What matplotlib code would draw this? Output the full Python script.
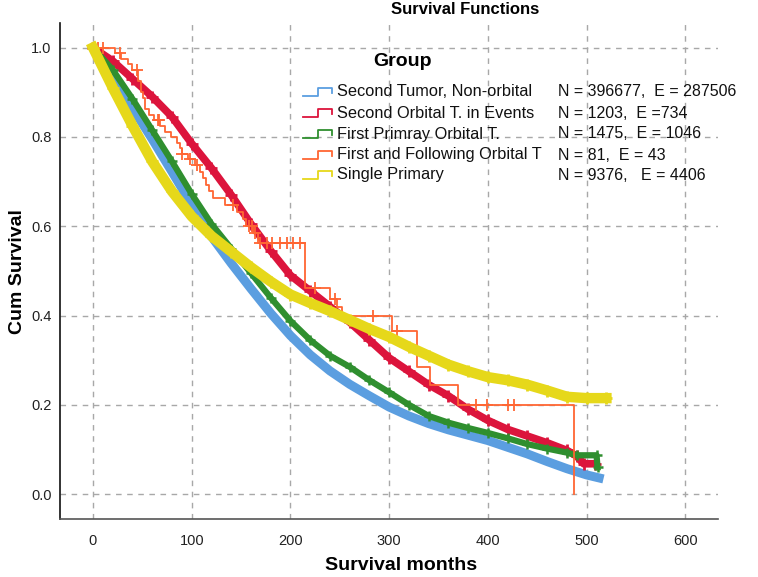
import matplotlib
matplotlib.use('Agg')
import matplotlib.pyplot as plt
import numpy as np

plt.rcParams['font.family'] = ['Liberation Sans', 'DejaVu Sans']

W, H = 758, 577

# ---------------- data ----------------
group_names = ["Second Tumor, Non-orbital", "Second Orbital T. in Events",
               "First Primray Orbital T.", "First and Following Orbital T",
               "Single Primary"]
group_ne = ["N = 396677,  E = 287506", "N = 1203,  E =734", "N = 1475,  E = 1046",
            "N = 81,  E = 43", "N = 9376,   E = 4406"]
group_colors = ["#5b9ee0", "#dc143c", "#2f8f2f", "#ff6633", "#e6d81a"]

blue_t = [0, 20, 40, 60, 80, 100, 120, 140, 160, 180, 200, 220, 240, 260, 280, 300,
          320, 340, 360, 380, 400, 420, 440, 460, 480, 500, 517]
blue_s = [1.0, 0.94, 0.865, 0.795, 0.722, 0.648, 0.577, 0.517, 0.46, 0.405, 0.355,
          0.312, 0.276, 0.246, 0.22, 0.195, 0.175, 0.158, 0.144, 0.132, 0.12,
          0.105, 0.09, 0.073, 0.057, 0.043, 0.034]

red_t = [0, 20, 40, 60, 80, 100, 120, 140, 160, 180, 200, 220, 240, 260, 280, 300,
         320, 340, 360, 380, 400, 420, 440, 460, 480, 490, 497, 508]
red_s = [1.0, 0.97, 0.93, 0.89, 0.845, 0.785, 0.73, 0.67, 0.605, 0.545, 0.49, 0.455,
         0.42, 0.385, 0.345, 0.305, 0.275, 0.245, 0.22, 0.19, 0.165, 0.145, 0.13,
         0.115, 0.098, 0.085, 0.068, 0.068]

green_t = [0, 20, 40, 60, 80, 100, 120, 140, 160, 180, 200, 220, 240, 260, 280, 300,
           320, 340, 360, 380, 400, 420, 440, 460, 480, 490, 510, 511]
green_s = [1.0, 0.95, 0.885, 0.815, 0.745, 0.672, 0.605, 0.55, 0.495, 0.44, 0.388,
           0.345, 0.31, 0.285, 0.255, 0.228, 0.2, 0.175, 0.16, 0.148, 0.137, 0.125,
           0.112, 0.102, 0.093, 0.087, 0.087, 0.06]

yellow_t = [0, 20, 40, 60, 80, 100, 120, 140, 160, 180, 200, 220, 240, 260, 280, 300,
            320, 340, 360, 380, 400, 420, 440, 460, 480, 500, 520]
yellow_s = [1.0, 0.91, 0.825, 0.745, 0.678, 0.622, 0.578, 0.543, 0.508, 0.476, 0.447,
            0.428, 0.41, 0.39, 0.37, 0.352, 0.33, 0.31, 0.29, 0.275, 0.262, 0.255,
            0.245, 0.232, 0.218, 0.215, 0.215]

orange_t = [0, 22, 28, 35, 40, 46, 49, 51, 53, 57, 62, 68, 73, 79, 85, 88, 90, 96,
            103, 108, 111, 114, 118, 122, 134, 146, 152, 155, 162, 167, 215, 240,
            247, 252, 303, 328, 341, 370, 487]
orange_s = [1.0, 0.988, 0.975, 0.963, 0.95, 0.925, 0.9, 0.888, 0.863, 0.85, 0.838,
            0.825, 0.812, 0.8, 0.787, 0.775, 0.762, 0.75, 0.737, 0.722, 0.708, 0.693,
            0.678, 0.663, 0.648, 0.632, 0.616, 0.6, 0.585, 0.562, 0.461, 0.437, 0.418,
            0.40, 0.365, 0.285, 0.245, 0.20, 0.0]
orange_cens = [5, 10, 27, 45, 66, 67, 90, 98, 105, 142, 158, 161, 164, 169, 176, 181,
               189, 196, 203, 210, 225, 245, 284, 308, 388, 399, 420, 426]

x_ticks = [0, 100, 200, 300, 400, 500, 600]
y_ticks = [0.0, 0.2, 0.4, 0.6, 0.8, 1.0]

# ---------------- figure ----------------
fig = plt.figure(figsize=(W / 100, H / 100), dpi=100)
ax = fig.add_axes([60 / W, 1 - 518.7 / H, (718 - 60) / W, (518.7 - 23) / H])
ax.set_xlim(-33.4, 633)
ax.set_ylim(-0.055, 1.055)

ax.set_xticks(x_ticks)
ax.set_yticks(y_ticks)
ax.set_yticklabels([f"{v:.1f}" for v in y_ticks])
ax.tick_params(axis='both', length=0, labelsize=10.5, colors='#222222')
ax.tick_params(axis='x', pad=11)
ax.tick_params(axis='y', pad=6)
ax.grid(True, color='#a8a8a8', linestyle=(0, (4, 4)), linewidth=1.0)
ax.set_axisbelow(True)
for s in ['top', 'right']:
    ax.spines[s].set_visible(False)
ax.spines['left'].set_color('#111111')
ax.spines['bottom'].set_color('#555555')
ax.spines['left'].set_linewidth(1.2)
ax.spines['bottom'].set_linewidth(1.2)

# blue: thick smooth
ax.plot(blue_t, blue_s, color=group_colors[0], lw=6.5, solid_capstyle='butt', zorder=2)
# red: band of censor marks
ax.plot(red_t, red_s, color=group_colors[1], lw=5.5, zorder=3,
        marker='+', ms=8, mew=2)
# green
ax.plot(green_t, green_s, color=group_colors[2], lw=4.5, zorder=4,
        marker='+', ms=7.5, mew=1.8)
# orange: step function with censor marks
ax.step(orange_t, orange_s, where='post', color=group_colors[3], lw=1.3, zorder=5)
o_t = np.array(orange_t)
o_s = np.array(orange_s)
cens_y = [o_s[np.searchsorted(o_t, c, side='right') - 1] for c in orange_cens]
ax.plot(orange_cens, cens_y, linestyle='none', marker='+', ms=9, mew=1.3,
        color=group_colors[3], zorder=5)
# yellow: thick
ax.plot(yellow_t, yellow_s, color=group_colors[4], lw=7.5, zorder=6,
        marker='+', ms=8, mew=2)

# ---------------- labels ----------------
fig.text(465 / W, 1 - 9 / H, "Survival Functions", ha='center', va='center',
         fontsize=12, fontweight='bold')
fig.text(18 / W, 1 - 272 / H, "Cum Survival", ha='center', va='center',
         rotation=90, fontsize=14, fontweight='bold')
fig.text(401 / W, 1 - 566 / H, "Survival months", ha='center', va='center',
         fontsize=14, fontweight='bold')

# ---------------- legend ----------------
fig.text(403 / W, 1 - 62 / H, "Group", ha='center', va='center',
         fontsize=14, fontweight='bold')
rows = [92, 113, 134, 155, 175]
for i, py in enumerate(rows):
    xs = np.array([303, 318, 318, 332, 332]) / W
    ys = 1 - np.array([py + 4, py + 4, py - 4, py - 4, py + 1]) / H
    fig.lines.append(plt.Line2D(xs, ys, transform=fig.transFigure,
                                color=group_colors[i], lw=1.3))
    fig.text(337 / W, 1 - py / H, group_names[i], ha='left', va='center',
             fontsize=11.8, color='#111111')
    fig.text(558 / W, 1 - py / H, group_ne[i], ha='left', va='center',
             fontsize=11.5, color='#111111')

fig.savefig("out.png", dpi=100)
